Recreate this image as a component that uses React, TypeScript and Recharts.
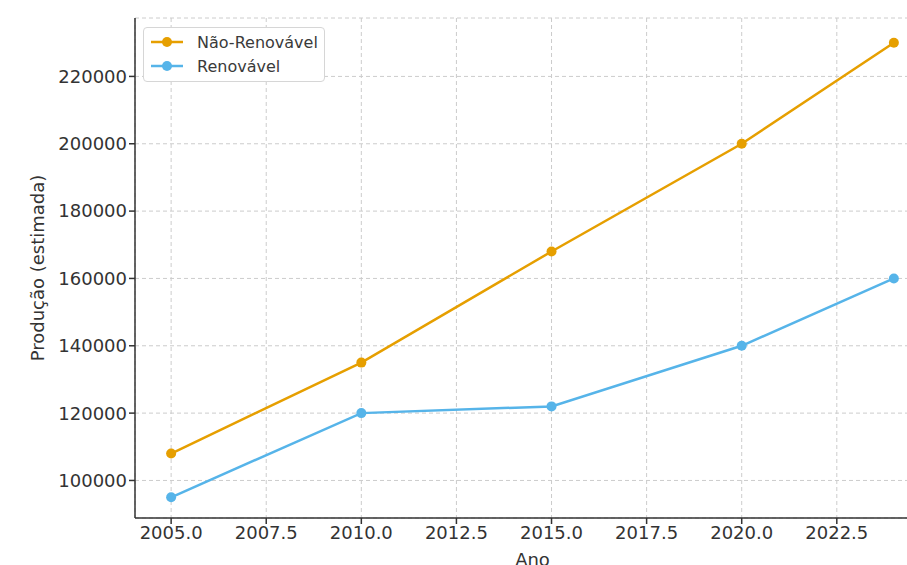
import { LineChart, Line, XAxis, YAxis, CartesianGrid, Legend } from 'recharts'

const years = [2005, 2010, 2015, 2020, 2024]
const naoRenovavel = [108000, 135000, 168000, 200000, 230000]
const renovavel = [95000, 120000, 122000, 140000, 160000]
const xTicks = [2005, 2007.5, 2010, 2012.5, 2015, 2017.5, 2020, 2022.5]
const yTicks = [100000, 120000, 140000, 160000, 180000, 200000, 220000]

const ORANGE = '#E69F00'
const BLUE = '#56B4E9'
const FONT = '"DejaVu Sans", sans-serif'

const chartData = years.map((ano, i) => ({
  ano,
  nao: naoRenovavel[i],
  ren: renovavel[i],
}))

const legendItems = [
  { label: 'Não-Renovável', color: ORANGE },
  { label: 'Renovável', color: BLUE },
]

function LegendBox() {
  return (
    <div
      style={{
        position: 'absolute',
        left: 143,
        top: 27,
        width: 182,
        height: 55,
        background: '#fff',
        border: '1px solid #d6d6d6',
        borderRadius: 4,
        boxSizing: 'border-box',
        fontFamily: FONT,
        fontSize: 16,
        color: '#3a3a3a',
      }}
    >
      {legendItems.map((item, i) => (
        <div
          key={item.label}
          style={{ position: 'absolute', left: 6, top: 4 + i * 24, height: 20, display: 'flex', alignItems: 'center' }}
        >
          <svg width={34} height={20}>
            <line x1={1} y1={10} x2={33} y2={10} stroke={item.color} strokeWidth={2.5} />
            <circle cx={17} cy={10} r={5} fill={item.color} />
          </svg>
          <span style={{ marginLeft: 13 }}>{item.label}</span>
        </div>
      ))}
    </div>
  )
}

export default function App() {
  const tickStyle = { fill: '#333', fontSize: 18, fontFamily: FONT }
  return (
    <div style={{ position: 'absolute', left: 0, top: 0, width: 907, height: 565, overflow: 'hidden', background: '#fff' }}>
      <LineChart width={930} height={565} data={chartData} margin={{ top: 18, right: 0, bottom: 0, left: 0 }}>
        <CartesianGrid stroke="#cccccc" strokeDasharray="4 3" />
        <XAxis
          dataKey="ano"
          type="number"
          domain={[2004.05, 2024.95]}
          ticks={xTicks}
          tickFormatter={(v: number) => v.toFixed(1)}
          tick={tickStyle}
          stroke="#333"
          strokeWidth={1.5}
          tickSize={6}
          tickMargin={2}
          height={47}
          allowDataOverflow
          label={{ value: 'Ano', position: 'insideBottom', offset: -1, fill: '#333', fontSize: 18, fontFamily: FONT }}
        />
        <YAxis
          type="number"
          domain={[88850, 237350]}
          ticks={yTicks}
          tick={tickStyle}
          stroke="#333"
          strokeWidth={1.5}
          tickSize={6}
          tickMargin={2}
          width={135}
          allowDataOverflow
          label={{
            value: 'Produção (estimada)',
            angle: -90,
            position: 'insideLeft',
            offset: 38,
            style: { textAnchor: 'middle' },
            fill: '#333',
            fontSize: 18,
            fontFamily: FONT,
          }}
        />
        <Legend content={() => null} />
        <Line
          dataKey="nao"
          name="Não-Renovável"
          stroke={ORANGE}
          strokeWidth={2.5}
          dot={{ r: 5, fill: ORANGE, stroke: ORANGE, strokeWidth: 0 }}
          isAnimationActive={false}
        />
        <Line
          dataKey="ren"
          name="Renovável"
          stroke={BLUE}
          strokeWidth={2.5}
          dot={{ r: 5, fill: BLUE, stroke: BLUE, strokeWidth: 0 }}
          isAnimationActive={false}
        />
      </LineChart>
      <LegendBox />
    </div>
  )
}
